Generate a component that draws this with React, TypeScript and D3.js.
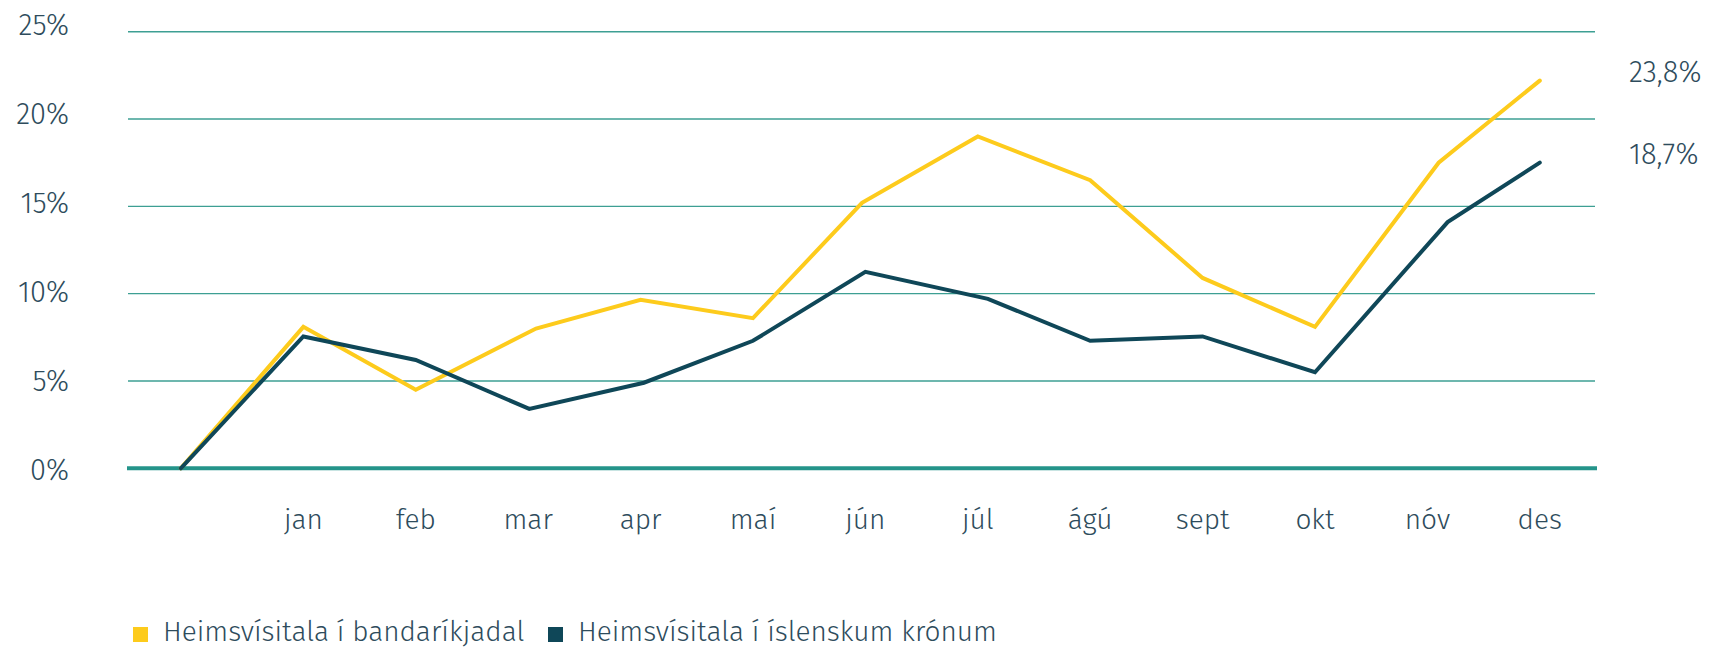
import React from "react";
import * as d3 from "d3";

const months = ["jan", "feb", "mar", "apr", "maí", "jún", "júl", "ágú", "sept", "okt", "nóv", "des"];
const yTicks = [0, 5, 10, 15, 20, 25];

// time position in months (jan = 0)
const usdT = [-1.09, 0, 1, 2.07, 3, 4, 4.97, 6, 7, 8, 9, 10.1, 11];
const usdValues = [0, 8.1, 4.5, 8.0, 9.65, 8.6, 15.2, 19.0, 16.5, 10.9, 8.1, 17.5, 22.2];

const iskT = [-1.09, 0, 1, 2.01, 3.03, 4, 5, 6.09, 7, 8, 9, 10.18, 11];
const iskValues = [0, 7.55, 6.2, 3.4, 4.9, 7.3, 11.25, 9.7, 7.3, 7.55, 5.5, 14.1, 17.5];

const endLabels = ["23,8%", "18,7%"];
const seriesNames = ["Heimsvísitala í bandaríkjadal", "Heimsvísitala í íslenskum krónum"];
const seriesColors = ["#fdcb1c", "#0f4758"];

const W = 1713;
const H = 648;
const textColor = "#2e4c5c";
const gridColor = "#3d9f93";
const zeroColor = "#24948a";
const font = "'Fira Sans', 'Open Sans', sans-serif";

export default function App() {
  const x = d3.scaleLinear().domain([-1.56, 11.5]).range([128, 1596]);
  const y = d3.scaleLinear().domain([0, 25]).range([468.3, 31.7]);
  const yLab = d3.scaleLinear().domain([0, 25]).range([469.5, 25]);

  const line = d3
    .line<[number, number]>()
    .x((d) => x(d[0]))
    .y((d) => y(d[1]));

  const usd = usdT.map((t, i) => [t, usdValues[i]] as [number, number]);
  const isk = iskT.map((t, i) => [t, iskValues[i]] as [number, number]);
  const series = [usd, isk];

  const [x0, x1] = x.range();

  return (
    <svg
      width={W}
      height={H}
      viewBox={`0 0 ${W} ${H}`}
      style={{ position: "absolute", left: 0, top: 0, background: "#fff" }}
      fontFamily={font}
      fontWeight={300}
    >
      {yTicks
        .filter((v) => v > 0)
        .map((v) => (
          <line key={v} x1={x0} x2={x1 - 1} y1={y(v)} y2={y(v)} stroke={gridColor} strokeWidth={1.4} />
        ))}
      <line x1={x0 - 1} x2={x1 + 1} y1={y(0)} y2={y(0)} stroke={zeroColor} strokeWidth={4} />

      {yTicks.map((v) => (
        <text
          key={v}
          x={69}
          y={yLab(v)}
          dy="0.36em"
          textAnchor="end"
          fontSize={29}
          fill={textColor}
        >
          {`${v}%`}
        </text>
      ))}

      {months.map((m, i) => (
        <text key={m} x={x(i)} y={529} textAnchor="middle" fontSize={28} fill={textColor}>
          {m}
        </text>
      ))}

      {series.map((s, i) => (
        <path
          key={i}
          d={line(s) || ""}
          fill="none"
          stroke={seriesColors[i]}
          strokeWidth={4}
          strokeLinecap="round"
          strokeLinejoin="miter"
        />
      ))}

      {series.map((s, i) => (
        <text
          key={endLabels[i]}
          x={1629}
          y={y(s[s.length - 1][1]) - 9}
          dy="0.36em"
          fontSize={29}
          fill={textColor}
        >
          {endLabels[i]}
        </text>
      ))}

      {seriesNames.map((n, i) => {
        const lx = [133, 548][i];
        return (
          <g key={n}>
            <rect x={lx} y={627} width={15} height={15} fill={seriesColors[i]} />
            <text x={lx + 30} y={641} fontSize={28} fill={textColor}>
              {n}
            </text>
          </g>
        );
      })}
    </svg>
  );
}
